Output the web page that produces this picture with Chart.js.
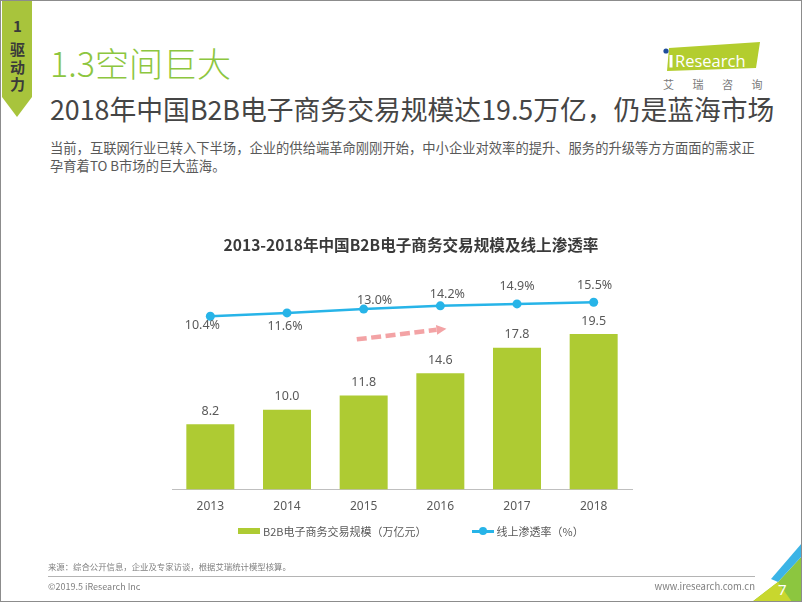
<!DOCTYPE html>
<html>
<head>
<meta charset="utf-8">
<script src="https://cdn.jsdelivr.net/npm/chart.js@4.4.1/dist/chart.umd.min.js"></script>
<style>
  html, body { margin: 0; padding: 0; background: #ffffff; }
  body { width: 802px; height: 602px; position: relative; overflow: hidden;
         font-family: "Noto Sans CJK SC", "Noto Sans", sans-serif; }
  .abs { position: absolute; white-space: nowrap; line-height: 1; }
  #frame { position: absolute; left: 0; top: 0; width: 802px; height: 602px; box-sizing: border-box;
           border: 1px solid #8c8c8c; pointer-events: none; z-index: 10; }
  #chart { position: absolute; left: 0; top: 0; }
  #sectionTitle { left: 50px; top: 46px; font-size: 34px; color: #8dc63f; font-weight: 300; }
  #headline { left: 50px; top: 96px; font-size: 26.8px; color: #454545; }
  #intro { left: 50px; top: 138.5px; font-size: 13.3px; line-height: 18.4px; color: #595959; }
  #tab1 { left: 10px; top: 18px; width: 15px; text-align: center; font-size: 15px; font-weight: bold; color: #3a3a3a; }
  #tab2 { left: 9px; top: 40px; width: 17px; text-align: center; font-size: 15px; font-weight: bold; color: #3a3a3a; line-height: 17.5px; white-space: normal; }
  #source { left: 48px; top: 561.5px; font-size: 8.4px; color: #7f7f7f; }
  #copy { left: 48px; top: 582px; font-size: 9px; color: #7f7f7f; }
  #site { right: 47px; top: 582px; font-size: 9.5px; color: #7f7f7f; }
  #rule { position: absolute; left: 48px; top: 576px; width: 707px; height: 1px; background: #b4b4b4; }
  #legend { position: absolute; left: 238px; top: 523px; height: 16px; display: flex; align-items: center;
            font-size: 11px; color: #595959; white-space: nowrap; }
  .lg-item { display: flex; align-items: center; }
  .lg-item + .lg-item { margin-left: 45px; }
  .lg-swatch { position: relative; width: 22px; height: 10px; margin-right: 3px; }
</style>
</head>
<body>
<svg class="abs" style="left:0;top:0" width="802" height="602">
  <polygon points="2,0 32,0 32,97 17,117 2,97" fill="#a8c43c"/>
  <polygon points="669,48 760,42 756,68 667,71" fill="#b3cd2e"/>
  <rect x="669.5" y="55" width="3" height="12.5" fill="#ffffff"/>
  <circle cx="666" cy="51" r="2.6" fill="#1f4e9c"/>
  <text x="675" y="66.5" font-family="Open Sans, Noto Sans, sans-serif" font-size="16.5" fill="#ffffff">Research</text>
  <text x="663" y="89" font-family="Noto Sans CJK SC, sans-serif" font-size="11" fill="#7a7a7a" letter-spacing="18.5">艾瑞咨询</text>
  <polygon points="778,582 802,556 802,602 752,602" fill="#8cc63f"/>
  <polygon points="752,602 778,582 792,602" fill="#c8d72e"/>
  <polygon points="802,543 802,556 778,582 771,579" fill="#3bb4e6"/>
  <text x="778" y="595" font-family="Noto Sans, sans-serif" font-size="15" fill="#ffffff">7</text>
</svg>
<div id="tab1" class="abs">1</div>
<div id="tab2" class="abs">驱<br>动<br>力</div>
<div id="sectionTitle" class="abs">1.3空间巨大</div>
<div id="headline" class="abs">2018年中国B2B电子商务交易规模达19.5万亿，仍是蓝海市场</div>
<div id="intro" class="abs">当前，互联网行业已转入下半场，企业的供给端革命刚刚开始，中小企业对效率的提升、服务的升级等方方面面的需求正<br>孕育着TO B市场的巨大蓝海。</div>
<canvas id="chart" width="802" height="602"></canvas>
<div id="legend"></div>
<div id="source" class="abs">来源：综合公开信息，企业及专家访谈，根据艾瑞统计模型核算。</div>
<div id="rule"></div>
<div id="copy" class="abs">©2019.5 iResearch Inc</div>
<div id="site" class="abs">www.iresearch.com.cn</div>
<div id="frame"></div>
<script>
// ---- data ----
const years = ['2013', '2014', '2015', '2016', '2017', '2018'];
const tradeScale = [8.2, 10.0, 11.8, 14.6, 17.8, 19.5];          // 万亿元
const onlineRate = [10.4, 11.6, 13.0, 14.2, 14.9, 15.5];         // %
const seriesNames = ['B2B电子商务交易规模（万亿元）', '线上渗透率（%）'];
const chartTitle = '2013-2018年中国B2B电子商务交易规模及线上渗透率';

// ---- styling (label placement for the rate labels, as in the original) ----
const rateLabelShift = [[-8, 9.5], [-2, 14], [11, -9], [7, -11.5], [0, -17.5], [1, -17]];
const GREEN = '#aecb33';
const BLUE = '#27b4e8';
const TEXT = '#595959';

const valueLabels = {
  id: 'valueLabels',
  afterDatasetsDraw(chart) {
    const ctx = chart.ctx;
    ctx.save();
    ctx.font = '12.5px "Noto Sans", "Noto Sans CJK SC", sans-serif';
    ctx.fillStyle = TEXT;
    ctx.textAlign = 'center';
    ctx.textBaseline = 'middle';
    chart.getDatasetMeta(0).data.forEach((bar, i) => {
      ctx.fillText(tradeScale[i].toFixed(1), bar.x, bar.y - 13);
    });
    chart.getDatasetMeta(1).data.forEach((pt, i) => {
      const s = rateLabelShift[i];
      ctx.fillText(onlineRate[i].toFixed(1) + '%', pt.x + s[0], pt.y + s[1]);
    });
    ctx.restore();
  }
};

// growth arrow drawn in the chart's own value space (category index, bar scale)
const trendArrow = {
  id: 'trendArrow',
  afterDatasetsDraw(chart) {
    const xs = chart.scales.x, ys = chart.scales.y, ctx = chart.ctx;
    const x0 = xs.getPixelForValue(1.91), y0 = ys.getPixelForValue(18.84);
    const x1 = xs.getPixelForValue(3.08), y1 = ys.getPixelForValue(20.18);
    const ang = Math.atan2(y1 - y0, x1 - x0);
    const head = 10, half = 5;
    const bx = x1 - head * Math.cos(ang), by = y1 - head * Math.sin(ang);
    ctx.save();
    ctx.strokeStyle = '#f3a3a5';
    ctx.fillStyle = '#f3a3a5';
    ctx.lineWidth = 4.5;
    ctx.setLineDash([10, 4.5]);
    ctx.beginPath();
    ctx.moveTo(x0, y0);
    ctx.lineTo(bx, by);
    ctx.stroke();
    ctx.setLineDash([]);
    ctx.beginPath();
    ctx.moveTo(x1, y1);
    ctx.lineTo(bx + half * Math.sin(ang), by - half * Math.cos(ang));
    ctx.lineTo(bx - half * Math.sin(ang), by + half * Math.cos(ang));
    ctx.closePath();
    ctx.fill();
    ctx.restore();
  }
};

const chart = new Chart(document.getElementById('chart'), {
  data: {
    labels: years,
    datasets: [
      {
        type: 'bar',
        label: seriesNames[0],
        data: tradeScale,
        backgroundColor: GREEN,
        borderWidth: 0,
        barPercentage: 0.626,
        categoryPercentage: 1,
        yAxisID: 'y',
        order: 2
      },
      {
        type: 'line',
        label: seriesNames[1],
        data: onlineRate,
        borderColor: BLUE,
        backgroundColor: BLUE,
        borderWidth: 2.5,
        pointRadius: 4.5,
        pointBackgroundColor: BLUE,
        pointBorderWidth: 0,
        tension: 0,
        yAxisID: 'y2',
        order: 1
      }
    ]
  },
  options: {
    responsive: false,
    devicePixelRatio: 1,
    animation: false,
    layout: { padding: { left: 172, right: 152, top: 232, bottom: 78 } },
    scales: {
      x: {
        grid: { display: false, drawTicks: false },
        border: { display: true, color: '#bfbfbf', width: 1 },
        ticks: { padding: 10, color: TEXT, font: { family: '"Noto Sans", sans-serif', size: 12 } }
      },
      y: { display: false, min: 0, max: 25 },
      y2: {
        position: 'right',
        min: -53, max: 19.9,
        grid: { display: false, drawTicks: false },
        border: { display: false },
        ticks: { display: false },
        afterFit(scale) { scale.width = 18; }
      }
    },
    plugins: {
      legend: { display: false },
      tooltip: { enabled: false },
      title: {
        display: true,
        text: chartTitle,
        color: '#3a3a3a',
        font: { family: '"Noto Sans CJK SC", sans-serif', size: 15.6, weight: 'bold' },
        padding: { top: 4, bottom: 35.5 }
      }
    }
  },
  plugins: [valueLabels, trendArrow]
});

// HTML legend built from the chart's own legend items (in dataset order)
(function buildLegend() {
  const box = document.getElementById('legend');
  const items = Chart.defaults.plugins.legend.labels.generateLabels(chart)
    .sort((a, b) => a.datasetIndex - b.datasetIndex);
  items.forEach((it) => {
    const ds = chart.data.datasets[it.datasetIndex];
    const item = document.createElement('div');
    item.className = 'lg-item';
    const sw = document.createElement('span');
    sw.className = 'lg-swatch';
    if (ds.type === 'bar') {
      sw.innerHTML = '<span style="position:absolute;left:0;top:2px;width:22px;height:6px;background:' + ds.backgroundColor + '"></span>';
    } else {
      sw.innerHTML = '<span style="position:absolute;left:0;top:4px;width:22px;height:2.5px;background:' + ds.borderColor + '"></span>' +
                     '<span style="position:absolute;left:7px;top:1.3px;width:8px;height:8px;border-radius:50%;background:' + ds.borderColor + '"></span>';
    }
    const tx = document.createElement('span');
    tx.textContent = it.text;
    item.appendChild(sw);
    item.appendChild(tx);
    box.appendChild(item);
  });
})();
</script>
</body>
</html>
